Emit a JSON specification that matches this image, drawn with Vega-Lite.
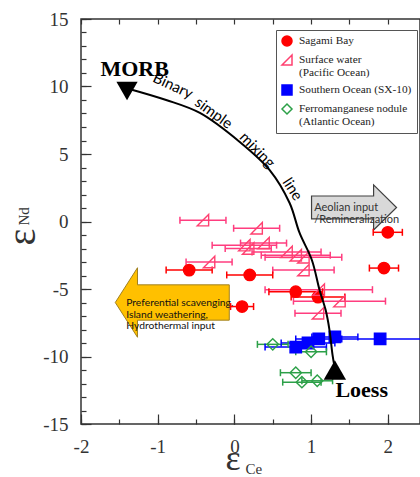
{
  "$schema": "https://vega.github.io/schema/vega-lite/v6.json",
  "width": 339,
  "height": 405,
  "autosize": "none",
  "padding": {"left": 81, "top": 19, "right": 0, "bottom": 53},
  "background": "white",
  "config": {
    "view": {"stroke": "#333", "strokeWidth": 1.5},
    "style": {"guide-label": {"lineBreak": "|"}}
  },
  "resolve": {"axis": {"x": "independent", "y": "independent"}},
  "datasets": {
    "pts": [
      {"g": "Sagami Bay", "x": 2.0, "y": -0.8, "xmin": 1.81, "xmax": 2.19},
      {"g": "Sagami Bay", "x": 1.95, "y": -3.45, "xmin": 1.76, "xmax": 2.14},
      {"g": "Sagami Bay", "x": -0.59, "y": -3.6, "xmin": -0.89, "xmax": -0.29},
      {"g": "Sagami Bay", "x": 0.2, "y": -3.96, "xmin": -0.1, "xmax": 0.5},
      {"g": "Sagami Bay", "x": 0.8, "y": -5.2, "xmin": 0.45, "xmax": 1.15},
      {"g": "Sagami Bay", "x": 1.09, "y": -5.6, "xmin": 0.74, "xmax": 1.44},
      {"g": "Sagami Bay", "x": 0.1, "y": -6.3, "xmin": -0.05, "xmax": 0.25},
      {"g": "Surface water|(Pacific Ocean)", "x": -0.41, "y": 0.1, "xmin": -0.71, "xmax": -0.11},
      {"g": "Surface water|(Pacific Ocean)", "x": 0.29, "y": -0.5, "xmin": -0.01, "xmax": 0.59},
      {"g": "Surface water|(Pacific Ocean)", "x": 0.13, "y": -1.75, "xmin": -0.29, "xmax": 0.55},
      {"g": "Surface water|(Pacific Ocean)", "x": 0.18, "y": -2.0, "xmin": -0.12, "xmax": 0.48},
      {"g": "Surface water|(Pacific Ocean)", "x": 0.38, "y": -1.6, "xmin": 0.08, "xmax": 0.68},
      {"g": "Surface water|(Pacific Ocean)", "x": 0.68, "y": -2.25, "xmin": 0.23, "xmax": 1.13},
      {"g": "Surface water|(Pacific Ocean)", "x": 0.8, "y": -2.5, "xmin": 0.35, "xmax": 1.25},
      {"g": "Surface water|(Pacific Ocean)", "x": 0.9, "y": -2.65, "xmin": 0.4, "xmax": 1.4},
      {"g": "Surface water|(Pacific Ocean)", "x": 0.9, "y": -3.6, "xmin": 0.5, "xmax": 1.3},
      {"g": "Surface water|(Pacific Ocean)", "x": -0.33, "y": -3.0, "xmin": -0.63, "xmax": -0.03},
      {"g": "Surface water|(Pacific Ocean)", "x": 1.37, "y": -5.9, "xmin": 0.77, "xmax": 1.97},
      {"g": "Surface water|(Pacific Ocean)", "x": 1.09, "y": -6.8, "xmin": 0.79, "xmax": 1.39},
      {"g": "Surface water|(Pacific Ocean)", "x": 1.1, "y": -5.05, "xmin": 0.4, "xmax": 1.8},
      {"g": "Southern Ocean (SX-10)", "x": 0.8, "y": -9.3, "xmin": 0.4, "xmax": 1.2},
      {"g": "Southern Ocean (SX-10)", "x": 0.96, "y": -9.0, "xmin": 0.61, "xmax": 1.31},
      {"g": "Southern Ocean (SX-10)", "x": 1.1, "y": -8.7, "xmin": 0.8, "xmax": 1.4},
      {"g": "Southern Ocean (SX-10)", "x": 1.31, "y": -8.55, "xmin": 1.01, "xmax": 1.61},
      {"g": "Southern Ocean (SX-10)", "x": 1.9, "y": -8.7, "xmin": 1.3, "xmax": 2.5},
      {"g": "Ferromanganese nodule|(Atlantic Ocean)", "x": 0.5, "y": -9.1, "xmin": 0.3, "xmax": 0.7},
      {"g": "Ferromanganese nodule|(Atlantic Ocean)", "x": 1.0, "y": -9.65, "xmin": 0.8, "xmax": 1.2},
      {"g": "Ferromanganese nodule|(Atlantic Ocean)", "x": 0.8, "y": -11.2, "xmin": 0.6, "xmax": 1.0},
      {"g": "Ferromanganese nodule|(Atlantic Ocean)", "x": 0.88, "y": -11.9, "xmin": 0.63, "xmax": 1.13},
      {"g": "Ferromanganese nodule|(Atlantic Ocean)", "x": 1.08, "y": -11.8, "xmin": 0.88, "xmax": 1.28}
    ],
    "curve": [
      {"o": 1, "x": -1.36, "y": 9.8},
      {"o": 2, "x": -0.89, "y": 9.0},
      {"o": 3, "x": -0.45, "y": 8.04},
      {"o": 4, "x": 0.07, "y": 5.89},
      {"o": 5, "x": 0.46, "y": 3.81},
      {"o": 6, "x": 0.72, "y": 1.37},
      {"o": 7, "x": 0.85, "y": -0.85},
      {"o": 8, "x": 1.01, "y": -2.85},
      {"o": 9, "x": 1.11, "y": -5.07},
      {"o": 10, "x": 1.19, "y": -6.56},
      {"o": 11, "x": 1.24, "y": -8.04},
      {"o": 12, "x": 1.28, "y": -9.9},
      {"o": 13, "x": 1.31, "y": -10.9}
    ]
  },
  "layer": [
    {
      "data": {"values": [{"x": 1.56, "y": 1.04}]},
      "mark": {"type": "point", "shape": "M-1,-0.27L0.46,-0.27L0.46,-0.53L1,0L0.46,0.53L0.46,0.27L-1,0.27Z", "size": 7225, "filled": true, "fill": "#d9d9d9", "stroke": "#404040", "strokeWidth": 1.2, "opacity": 1},
      "encoding": {
        "x": {"field": "x", "type": "quantitative", "scale": {"domain": [-2, 2.42], "nice": false, "zero": false}, "axis": null},
        "y": {"field": "y", "type": "quantitative", "scale": {"domain": [-15, 15], "nice": false, "zero": false}, "axis": null}
      }
    },
    {
      "data": {"values": [{"x": -0.81, "y": -6.0}]},
      "mark": {"type": "point", "shape": "M1,-0.31L-0.61,-0.31L-0.61,-0.61L-1,0L-0.61,0.61L-0.61,0.31L1,0.31Z", "size": 12996, "filled": true, "fill": "#ffc000", "stroke": "#a08020", "strokeWidth": 1, "opacity": 1},
      "encoding": {
        "x": {"field": "x", "type": "quantitative", "scale": {"domain": [-2, 2.42], "nice": false, "zero": false}, "axis": null},
        "y": {"field": "y", "type": "quantitative", "scale": {"domain": [-15, 15], "nice": false, "zero": false}, "axis": null}
      }
    },
    {
      "data": {"values": [{"x": 1.04, "y": 1.0}]},
      "mark": {"type": "text", "text": ["Aeolian input", "/Remineralization"], "font": "Lato", "fontSize": 11, "lineHeight": 11.5, "align": "left", "baseline": "middle", "color": "#333"},
      "encoding": {
        "x": {"field": "x", "type": "quantitative", "scale": {"domain": [-2, 2.42], "nice": false, "zero": false}, "axis": null},
        "y": {"field": "y", "type": "quantitative", "scale": {"domain": [-15, 15], "nice": false, "zero": false}, "axis": null}
      }
    },
    {
      "data": {"values": [{"x": -1.41, "y": -6.07}]},
      "mark": {"type": "text", "text": ["Preferential scavenging,", "Island weathering,", "Hydrothermal input"], "font": "Lato", "fontSize": 10.3, "lineHeight": 11.5, "align": "left", "baseline": "middle", "color": "#111"},
      "encoding": {
        "x": {"field": "x", "type": "quantitative", "scale": {"domain": [-2, 2.42], "nice": false, "zero": false}, "axis": null},
        "y": {"field": "y", "type": "quantitative", "scale": {"domain": [-15, 15], "nice": false, "zero": false}, "axis": null}
      }
    },
    {
      "data": {"name": "pts"},
      "mark": {"type": "rule", "strokeWidth": 1.5},
      "encoding": {
        "x": {"field": "xmin", "type": "quantitative", "scale": {"domain": [-2, 2.42], "nice": false, "zero": false},
          "axis": {"orient": "bottom", "values": [-2, -1, 0, 1, 2], "tickSize": -10, "tickWidth": 1.2, "tickColor": "#333", "labelPadding": 23, "labelFont": "Liberation Serif", "labelFontSize": 19, "labelColor": "#333", "labelExpr": "toString(datum.value)", "labelFlush": false, "labelOverlap": false, "domain": false, "grid": false,
            "title": "ε", "titleFont": "Liberation Serif", "titleFontSize": 36, "titleFontWeight": "normal", "titleColor": "#333", "titleX": 144, "titleY": 45, "titleAlign": "left", "titleBaseline": "alphabetic"}},
        "x2": {"field": "xmax"},
        "y": {"field": "y", "type": "quantitative", "scale": {"domain": [-15, 15], "nice": false, "zero": false},
          "axis": {"orient": "left", "values": [-15, -10, -5, 0, 5, 10, 15], "tickSize": -10, "tickWidth": 1.2, "tickColor": "#333", "labelPadding": 23, "labelFont": "Liberation Serif", "labelFontSize": 19, "labelColor": "#333", "labelExpr": "toString(datum.value)", "labelFlush": false, "labelOverlap": false, "domain": false, "grid": false,
            "title": "ε", "titleFont": "Liberation Serif", "titleFontSize": 40, "titleFontWeight": "normal", "titleColor": "#333", "titleAngle": -90, "titleX": -47, "titleY": 226, "titleAlign": "left", "titleBaseline": "alphabetic"}},
        "color": {"field": "g", "type": "nominal", "legend": null,
          "scale": {"domain": ["Ferromanganese nodule|(Atlantic Ocean)", "Southern Ocean (SX-10)", "Surface water|(Pacific Ocean)", "Sagami Bay"], "range": ["#2ca048", "#0000ff", "#ff3d7f", "#ff0000"]}}
      }
    },
    {
      "data": {"name": "pts"},
      "mark": {"type": "tick", "orient": "vertical", "size": 7, "thickness": 1.5, "opacity": 1},
      "encoding": {
        "x": {"field": "xmin", "type": "quantitative", "scale": {"domain": [-2, 2.42], "nice": false, "zero": false},
          "axis": {"orient": "bottom", "values": [-2, -1.5, -1, -0.5, 0, 0.5, 1, 1.5, 2], "tickSize": -5, "tickWidth": 1.2, "tickColor": "#333", "labels": false, "domain": false, "grid": false,
            "title": "Ce", "titleFont": "Liberation Serif", "titleFontSize": 15, "titleFontWeight": "normal", "titleColor": "#333", "titleX": 164, "titleY": 49, "titleAlign": "left", "titleBaseline": "alphabetic"}},
        "y": {"field": "y", "type": "quantitative", "scale": {"domain": [-15, 15], "nice": false, "zero": false},
          "axis": {"orient": "left", "values": [-15, -14, -13, -12, -11, -10, -9, -8, -7, -6, -5, -4, -3, -2, -1, 0, 1, 2, 3, 4, 5, 6, 7, 8, 9, 10, 11, 12, 13, 14, 15], "tickSize": -5, "tickWidth": 1.2, "tickColor": "#333", "labels": false, "domain": false, "grid": false,
            "title": "Nd", "titleFont": "Liberation Serif", "titleFontSize": 15, "titleFontWeight": "normal", "titleColor": "#333", "titleAngle": -90, "titleX": -53, "titleY": 206, "titleAlign": "left", "titleBaseline": "alphabetic"}},
        "color": {"field": "g", "type": "nominal", "legend": null,
          "scale": {"domain": ["Ferromanganese nodule|(Atlantic Ocean)", "Southern Ocean (SX-10)", "Surface water|(Pacific Ocean)", "Sagami Bay"], "range": ["#2ca048", "#0000ff", "#ff3d7f", "#ff0000"]}}
      }
    },
    {
      "data": {"name": "pts"},
      "mark": {"type": "tick", "orient": "vertical", "size": 7, "thickness": 1.5, "opacity": 1},
      "encoding": {
        "x": {"field": "xmax", "type": "quantitative", "scale": {"domain": [-2, 2.42], "nice": false, "zero": false},
          "axis": {"orient": "top", "values": [-2, -1.5, -1, -0.5, 0, 0.5, 1, 1.5, 2], "tickSize": -5, "tickWidth": 1.2, "tickColor": "#333", "labels": false, "domain": false, "grid": false, "title": null}},
        "y": {"field": "y", "type": "quantitative", "scale": {"domain": [-15, 15], "nice": false, "zero": false}, "axis": null},
        "color": {"field": "g", "type": "nominal", "legend": null,
          "scale": {"domain": ["Ferromanganese nodule|(Atlantic Ocean)", "Southern Ocean (SX-10)", "Surface water|(Pacific Ocean)", "Sagami Bay"], "range": ["#2ca048", "#0000ff", "#ff3d7f", "#ff0000"]}}
      }
    },
    {
      "data": {"name": "pts"},
      "mark": {"type": "point", "size": 130, "strokeWidth": 1.4, "opacity": 1},
      "encoding": {
        "x": {"field": "x", "type": "quantitative", "scale": {"domain": [-2, 2.42], "nice": false, "zero": false}, "axis": null},
        "y": {"field": "y", "type": "quantitative", "scale": {"domain": [-15, 15], "nice": false, "zero": false}, "axis": null},
        "shape": {"field": "g", "type": "nominal", "title": null,
          "scale": {"domain": ["Sagami Bay", "Surface water|(Pacific Ocean)", "Southern Ocean (SX-10)", "Ferromanganese nodule|(Atlantic Ocean)"], "range": ["circle", "M-1,1L1,1L1,-1Z", "square", "diamond"]},
          "legend": {"orient": "none", "legendX": 195, "legendY": 11, "strokeColor": "#555", "fillColor": "white", "padding": 5, "labelFont": "Liberation Serif", "labelFontSize": 11.3, "labelColor": "#222", "symbolSize": 100, "symbolStrokeWidth": 1.5, "symbolOpacity": 1, "rowPadding": 3, "labelLimit": 200, "labelOffset": 6}},
        "stroke": {"field": "g", "type": "nominal", "title": null,
          "scale": {"domain": ["Sagami Bay", "Surface water|(Pacific Ocean)", "Southern Ocean (SX-10)", "Ferromanganese nodule|(Atlantic Ocean)"], "range": ["#ff0000", "#ff4070", "#0000ff", "#2ca048"]},
          "legend": {"orient": "none", "legendX": 195, "legendY": 11, "strokeColor": "#555", "fillColor": "white", "padding": 5, "labelFont": "Liberation Serif", "labelFontSize": 11.3, "labelColor": "#222", "symbolSize": 100, "symbolStrokeWidth": 1.5, "symbolOpacity": 1, "rowPadding": 3, "labelLimit": 200, "labelOffset": 6}},
        "fill": {"field": "g", "type": "nominal", "title": null,
          "scale": {"domain": ["Sagami Bay", "Surface water|(Pacific Ocean)", "Southern Ocean (SX-10)", "Ferromanganese nodule|(Atlantic Ocean)"], "range": ["#ff0000", "rgba(255,255,255,0)", "#0000ff", "rgba(255,255,255,0)"]},
          "legend": {"orient": "none", "legendX": 195, "legendY": 11, "strokeColor": "#555", "fillColor": "white", "padding": 5, "labelFont": "Liberation Serif", "labelFontSize": 11.3, "labelColor": "#222", "symbolSize": 100, "symbolStrokeWidth": 1.5, "symbolOpacity": 1, "rowPadding": 3, "labelLimit": 200, "labelOffset": 6}}
      }
    },
    {
      "data": {"name": "curve"},
      "mark": {"type": "line", "color": "black", "strokeWidth": 2, "interpolate": "catmull-rom"},
      "encoding": {
        "x": {"field": "x", "type": "quantitative", "scale": {"domain": [-2, 2.42], "nice": false, "zero": false}, "axis": null},
        "y": {"field": "y", "type": "quantitative", "scale": {"domain": [-15, 15], "nice": false, "zero": false}, "axis": null},
        "order": {"field": "o", "type": "quantitative"}
      }
    },
    {
      "data": {"values": [{"x": -1.4, "y": 9.67}]},
      "mark": {"type": "point", "shape": "triangle-down", "size": 450, "filled": true, "color": "black", "opacity": 1},
      "encoding": {
        "x": {"field": "x", "type": "quantitative", "scale": {"domain": [-2, 2.42], "nice": false, "zero": false}, "axis": null},
        "y": {"field": "y", "type": "quantitative", "scale": {"domain": [-15, 15], "nice": false, "zero": false}, "axis": null}
      }
    },
    {
      "data": {"values": [{"x": 1.31, "y": -11.0}]},
      "mark": {"type": "point", "shape": "triangle-up", "size": 500, "filled": true, "color": "black", "opacity": 1},
      "encoding": {
        "x": {"field": "x", "type": "quantitative", "scale": {"domain": [-2, 2.42], "nice": false, "zero": false}, "axis": null},
        "y": {"field": "y", "type": "quantitative", "scale": {"domain": [-15, 15], "nice": false, "zero": false}, "axis": null}
      }
    },
    {
      "data": {"values": [{"t": "MORB", "x": -1.3, "y": 11.3}, {"t": "Loess", "x": 1.66, "y": -12.5}]},
      "mark": {"type": "text", "font": "Liberation Serif", "fontWeight": "bold", "fontSize": 22, "align": "center", "baseline": "middle", "color": "black"},
      "encoding": {
        "x": {"field": "x", "type": "quantitative", "scale": {"domain": [-2, 2.42], "nice": false, "zero": false}, "axis": null},
        "y": {"field": "y", "type": "quantitative", "scale": {"domain": [-15, 15], "nice": false, "zero": false}, "axis": null},
        "text": {"field": "t"}
      }
    },
    {
      "data": {"values": [{"t": "Binary", "x": -0.8, "y": 10.07}]},
      "mark": {"type": "text", "font": "Lato", "fontSize": 15, "angle": 25, "align": "center", "baseline": "middle", "color": "black"},
      "encoding": {
        "x": {"field": "x", "type": "quantitative", "scale": {"domain": [-2, 2.42], "nice": false, "zero": false}, "axis": null},
        "y": {"field": "y", "type": "quantitative", "scale": {"domain": [-15, 15], "nice": false, "zero": false}, "axis": null},
        "text": {"field": "t"}
      }
    },
    {
      "data": {"values": [{"t": "simple", "x": -0.27, "y": 8.05}]},
      "mark": {"type": "text", "font": "Lato", "fontSize": 15, "angle": 36, "align": "center", "baseline": "middle", "color": "black"},
      "encoding": {
        "x": {"field": "x", "type": "quantitative", "scale": {"domain": [-2, 2.42], "nice": false, "zero": false}, "axis": null},
        "y": {"field": "y", "type": "quantitative", "scale": {"domain": [-15, 15], "nice": false, "zero": false}, "axis": null},
        "text": {"field": "t"}
      }
    },
    {
      "data": {"values": [{"t": "mixing", "x": 0.3, "y": 5.3}]},
      "mark": {"type": "text", "font": "Lato", "fontSize": 15, "angle": 46, "align": "center", "baseline": "middle", "color": "black"},
      "encoding": {
        "x": {"field": "x", "type": "quantitative", "scale": {"domain": [-2, 2.42], "nice": false, "zero": false}, "axis": null},
        "y": {"field": "y", "type": "quantitative", "scale": {"domain": [-15, 15], "nice": false, "zero": false}, "axis": null},
        "text": {"field": "t"}
      }
    },
    {
      "data": {"values": [{"t": "line", "x": 0.76, "y": 2.4}]},
      "mark": {"type": "text", "font": "Lato", "fontSize": 15, "angle": 57, "align": "center", "baseline": "middle", "color": "black"},
      "encoding": {
        "x": {"field": "x", "type": "quantitative", "scale": {"domain": [-2, 2.42], "nice": false, "zero": false}, "axis": null},
        "y": {"field": "y", "type": "quantitative", "scale": {"domain": [-15, 15], "nice": false, "zero": false}, "axis": null},
        "text": {"field": "t"}
      }
    }
  ]
}
